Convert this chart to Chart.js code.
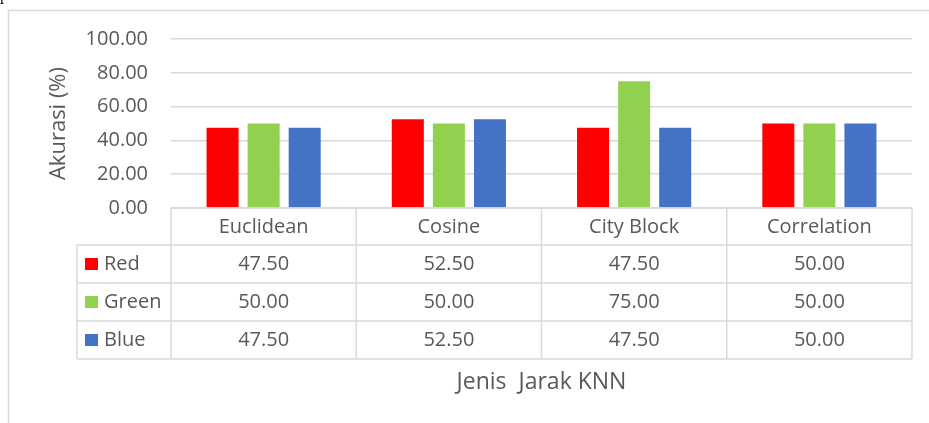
<!DOCTYPE html>
<html>
<head>
<meta charset="utf-8">
<script src="https://cdn.jsdelivr.net/npm/chart.js@4"></script>
<style>
  html, body { margin: 0; padding: 0; background: #fff; }
  #wrap { width: 929px; height: 423px; position: relative; }
</style>
</head>
<body>
<div id="wrap"><canvas id="akurasi-chart"></canvas></div>
<script>
const categories = ['Euclidean', 'Cosine', 'City Block', 'Correlation'];
const seriesNames = ['Red', 'Green', 'Blue'];
const redValues = [47.50, 52.50, 47.50, 50.00];
const greenValues = [50.00, 50.00, 75.00, 50.00];
const blueValues = [47.50, 52.50, 47.50, 50.00];
const seriesColors = ['#FF0000', '#92D050', '#4472C4'];
const yTicks = [0, 20, 40, 60, 80, 100];

const textColor = '#595959';
const lineColor = '#d9d9d9';
const fontFamily = '"Open Sans", "Noto Sans", sans-serif';

// frame of the embedded chart + clipped caption text above it
const framePlugin = {
    id: 'frame',
    beforeDraw(chart) {
        const ctx = chart.ctx;
        ctx.save();
        ctx.fillStyle = '#000';
        ctx.font = '16px "Liberation Serif", serif';
        ctx.textBaseline = 'alphabetic';
        ctx.fillText('pada', 0, 0);
        ctx.strokeStyle = lineColor;
        ctx.lineWidth = 1.5;
        ctx.beginPath();
        ctx.moveTo(8.5, 423);
        ctx.lineTo(8.5, 10.5);
        ctx.lineTo(929, 10.5);
        ctx.stroke();
        ctx.restore();
    }
};

// data table under the plot, Excel style
const tablePlugin = {
    id: 'dataTable',
    afterDraw(chart) {
        const ctx = chart.ctx;
        const x = chart.scales.x;
        const area = chart.chartArea;
        const half = (x.getPixelForValue(1) - x.getPixelForValue(0)) / 2;
        const cols = categories.map((c, i) => x.getPixelForValue(i) - half);
        cols.push(x.getPixelForValue(categories.length - 1) + half);

        const top = area.bottom;
        const headerH = 37;
        const rowH = 38;
        const leftX = 77;
        const rows = [redValues, greenValues, blueValues];
        const bottom = top + headerH + rowH * rows.length;

        ctx.save();
        ctx.strokeStyle = lineColor;
        ctx.lineWidth = 1.5;
        ctx.beginPath();
        cols.forEach(cx => { ctx.moveTo(cx, top); ctx.lineTo(cx, bottom); });
        ctx.moveTo(leftX, top + headerH);
        ctx.lineTo(leftX, bottom);
        ctx.moveTo(cols[0], top);
        ctx.lineTo(cols[cols.length - 1], top);
        for (let r = 0; r <= rows.length; r++) {
            const y = top + headerH + r * rowH;
            ctx.moveTo(leftX, y);
            ctx.lineTo(cols[cols.length - 1], y);
        }
        ctx.stroke();

        ctx.fillStyle = textColor;
        ctx.font = '20px ' + fontFamily;
        ctx.textAlign = 'center';
        ctx.textBaseline = 'middle';
        categories.forEach((c, i) => {
            ctx.fillText(c, x.getPixelForValue(i), top + headerH / 2 + 1);
        });
        rows.forEach((vals, r) => {
            const cy = top + headerH + r * rowH + rowH / 2;
            vals.forEach((v, i) => {
                ctx.fillStyle = textColor;
                ctx.fillText(v.toFixed(2), x.getPixelForValue(i), cy);
            });
            ctx.fillStyle = seriesColors[r];
            ctx.fillRect(85, cy - 6, 13, 12);
            ctx.fillStyle = textColor;
            ctx.textAlign = 'left';
            ctx.fillText(seriesNames[r], 104, cy);
            ctx.textAlign = 'center';
        });
        ctx.restore();
    }
};

const ctx = document.getElementById('akurasi-chart');

new Chart(ctx, {
    type: 'bar',
    data: {
        labels: categories,
        datasets: [redValues, greenValues, blueValues].map((vals, i) => ({
            label: seriesNames[i],
            data: vals,
            backgroundColor: seriesColors[i],
            categoryPercentage: 0.665,
            barPercentage: 0.78
        }))
    },
    options: {
        responsive: true,
        maintainAspectRatio: false,
        animation: false,
        layout: { padding: { top: 39, right: 17, left: 0, bottom: 0 } },
        plugins: {
            legend: { display: false },
            tooltip: { enabled: false }
        },
        scales: {
            x: {
                grid: { display: false },
                border: { display: false },
                ticks: { display: false },
                title: {
                    display: true,
                    text: 'Jenis  Jarak KNN',
                    color: textColor,
                    font: { family: fontFamily, size: 23 },
                    padding: { top: 0, bottom: 27 }
                },
                afterFit(scale) { scale.height = 215; }
            },
            y: {
                min: 0,
                max: 100,
                afterBuildTicks(scale) { scale.ticks = yTicks.map(v => ({ value: v })); },
                grid: { color: lineColor, lineWidth: 1.5, drawTicks: false },
                border: { display: false },
                ticks: {
                    color: textColor,
                    font: { family: fontFamily, size: 20 },
                    padding: 23,
                    callback: v => v.toFixed(2)
                },
                title: {
                    display: true,
                    text: 'Akurasi (%)',
                    color: textColor,
                    font: { family: fontFamily, size: 22 },
                    padding: { top: 46, bottom: 0 }
                },
                afterFit(scale) { scale.width = 171; }
            }
        }
    },
    plugins: [framePlugin, tablePlugin]
});
</script>
</body>
</html>
